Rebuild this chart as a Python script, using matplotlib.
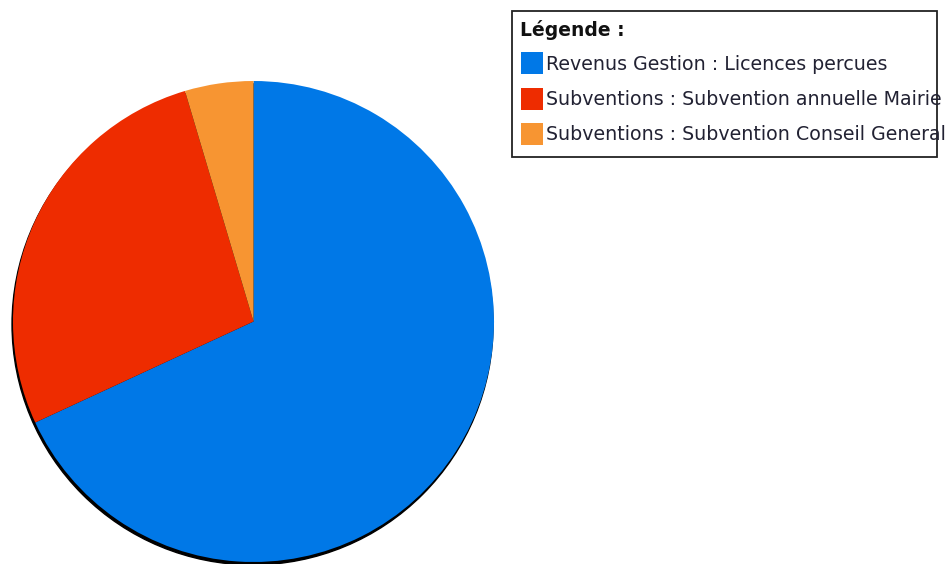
import matplotlib.pyplot as plt
from matplotlib.patches import Circle, Rectangle

plt.rcParams['font.family'] = ['DejaVu Sans']

labels = ["Revenus Gestion : Licences percues",
          "Subventions : Subvention annuelle Mairie",
          "Subventions : Subvention Conseil General"]
values = [68.1, 27.3, 4.6]
colors = ["#0078E7", "#EE2C00", "#F79532"]
legend_title = "Légende :"

W, H = 950, 564
fig = plt.figure(figsize=(W / 100, H / 100), dpi=100)

# pie area: centre ~(253, 323) px, radius ~240 px
ax = fig.add_axes([13 / W, 2 / H, 481 / W, 481 / H])
ax.axis('off')

# dark shadow slightly below the disc
ax.add_patch(Circle((-0.004, -0.012), 1.0, color='black', zorder=0,
                    clip_on=False))
ax.pie(values, colors=colors, startangle=90, counterclock=False,
       radius=1.0, wedgeprops=dict(linewidth=0, antialiased=True))
ax.set_xlim(-1.0, 1.0)
ax.set_ylim(-1.0, 1.0)

# legend box drawn in pixel coordinates
lax = fig.add_axes([0, 0, 1, 1])
lax.set_xlim(0, W)
lax.set_ylim(H, 0)
lax.axis('off')
lax.add_patch(Rectangle((511.5, 10.5), 425, 146, fill=False,
                        edgecolor='#222222', linewidth=1.3))
lax.text(520, 30, legend_title, fontsize=13.5, fontweight='bold',
         va='center', ha='left', color='#111111')
for i, (lab, col) in enumerate(zip(labels, colors)):
    y = 63 + i * 35.5
    lax.add_patch(Rectangle((521, y - 11), 22, 22, facecolor=col,
                            edgecolor='none'))
    lax.text(546, y + 1, lab, fontsize=13.7, va='center', ha='left',
             color='#222233', clip_on=False)

fig.savefig('out.png', dpi=100)
